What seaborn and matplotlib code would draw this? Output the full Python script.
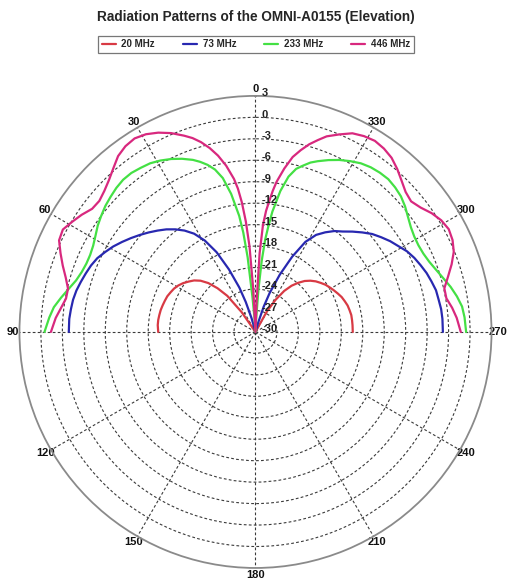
import numpy as np
import pandas as pd
import matplotlib
matplotlib.use("Agg")
import matplotlib.pyplot as plt
from matplotlib.lines import Line2D
import seaborn as sns

# Angle off zenith (deg) at which each elevation cut is sampled
angles_deg = [0, 2, 3, 4, 5, 6, 7, 8, 10, 12, 14, 16, 18, 20, 23, 26, 29, 32, 35,
              38, 41, 44, 47, 50, 53, 56, 59, 62, 65, 68, 71, 74, 77, 80, 83, 86, 90]

freq_labels = ["20 MHz", "73 MHz", "233 MHz", "446 MHz"]

# Gain (dB) on the 0..90 deg side
gain_20_left = [-30] * 17 + [-30, -26.6, -23.6, -21.9, -20.5, -19.5, -18.8, -18.3, -17.8,
                             -17.4, -17.1, -16.9, -16.7, -16.6, -16.5, -16.4, -16.35,
                             -16.3, -16.3, -16.4]
gain_73_left = [-30] * 10 + [-30, -28, -25.6, -23.4, -20.5, -17.6, -15.4, -13.8, -12.7,
                             -11.8, -11.0, -10.3, -9.6, -8.9, -8.2, -7.5, -6.8, -6.2,
                             -5.6, -5.2, -4.9, -4.6, -4.3, -4.1, -4.0, -3.9, -3.9]
gain_233_left = [-30, -30, -30, -28, -25, -19.5, -16, -13.6, -10.4, -8.0, -6.6, -5.7, -5.0,
                 -4.4, -3.7, -3.1, -2.6, -2.2, -2.0, -1.8, -1.8, -2.0, -2.3, -2.6, -3.0,
                 -3.4, -3.9, -4.3, -4.5, -4.5, -4.3, -3.9, -3.2, -2.4, -1.6, -1.1, -0.5]
gain_446_left = [-30, -30, -24, -18, -14.5, -11.8, -9.8, -8.4, -6.4, -4.8, -3.5, -2.4, -1.5,
                 -0.8, 0.2, 1.0, 1.6, 1.9, 1.7, 1.2, 0.3, -0.5, -1.1, -1.5, -1.4, -0.7,
                 -0.1, 0.5, 0.3, -0.6, -1.5, -2.4, -3.1, -3.1, -2.6, -2.0, -1.4]

# Gain (dB) on the 270..360 deg side (same angles off zenith)
gain_20_right = [-30] * 15 + [-30, -26.8, -24.7, -23.0, -21.8, -20.9, -20.1, -19.5, -19.0,
                              -18.6, -18.2, -17.9, -17.6, -17.3, -17.0, -16.8, -16.6,
                              -16.5, -16.4, -16.4, -16.4, -16.4]
gain_73_right = [-30] * 10 + [-30, -28.7, -26.3, -24.2, -21.3, -18.3, -15.6, -14.0, -13.0,
                              -12.1, -11.4, -10.5, -9.6, -8.7, -8.0, -7.3, -6.7, -6.0,
                              -5.5, -5.1, -4.7, -4.4, -4.1, -4.0, -3.85, -3.8, -3.8]
gain_233_right = [-30, -30, -28, -24, -20, -17, -15, -13, -10, -7.8, -6.5, -5.8, -5.1,
                  -4.6, -3.9, -3.25, -2.7, -2.2, -1.9, -1.75, -1.7, -1.9, -2.2, -2.7, -3.3,
                  -3.8, -4.1, -4.2, -4.1, -3.8, -3.3, -2.7, -2.0, -1.4, -0.9, -0.7, -0.55]
gain_446_right = [-30, -26, -19, -15, -13, -11.6, -10.1, -8.8, -6.8, -5.0, -3.8, -2.7, -1.8,
                  -0.9, 0.0, 0.9, 1.3, 1.5, 1.3, 0.9, 0.2, -0.6, -1.3, -1.6, -1.1, -0.3,
                  0.3, 0.6, 0.4, -0.1, -1.0, -2.0, -2.9, -2.9, -2.3, -1.8, -1.3]

left_cuts = [gain_20_left, gain_73_left, gain_233_left, gain_446_left]
right_cuts = [gain_20_right, gain_73_right, gain_233_right, gain_446_right]

line_colors = ["#d83a44", "#2828b0", "#44e044", "#d8287e"]

r_min, r_max = -30, 3
ring_labels = list(range(-30, 4, 3))
theta_labels = [str(a) for a in range(0, 360, 30)]

# One continuous trace per frequency: 90 deg right -> zenith -> 90 deg left
frames = []
for lab, gl, gr in zip(freq_labels, left_cuts, right_cuts):
    th = [-a for a in angles_deg[::-1]] + angles_deg[1:]
    db = gr[::-1] + gl[1:]
    frames.append(pd.DataFrame({"theta": np.deg2rad(th), "gain": db, "freq": lab}))
df = pd.concat(frames, ignore_index=True)

sns.set_style("white")
plt.rcParams["font.family"] = ["Liberation Sans", "DejaVu Sans"]

fig = plt.figure(figsize=(5.12, 5.85), dpi=100)
ax = fig.add_axes([0.038, 0.0291, 0.922, 0.807], projection="polar")
ax.set_theta_zero_location("N")
ax.set_theta_direction(1)

sns.lineplot(data=df, x="theta", y="gain", hue="freq", palette=line_colors,
             hue_order=freq_labels, sort=False, estimator=None, linewidth=1.6,
             legend=False, ax=ax)
ax.set_xlabel("")
ax.set_ylabel("")
ax.set_ylim(r_min, r_max)

ax.set_thetagrids(range(0, 360, 30), theta_labels)
ax.set_rticks(ring_labels[1:-1])
ax.set_yticklabels([])
ax.grid(True, color="#3a3a3a", linestyle=(0, (2.5, 2.0)), linewidth=0.8)
ax.spines["polar"].set_color("#8a8a8a")
ax.spines["polar"].set_linewidth(1.3)
ax.tick_params(axis="x", pad=-5.5, labelsize=8, colors="#111111")
for t in ax.get_xticklabels():
    t.set_fontweight("bold")

for v in ring_labels:
    ax.annotate(str(v), xy=(0, v), xytext=(4.5, 2.0), textcoords="offset points",
                ha="left", va="center", fontsize=8, fontweight="bold", color="#222222")

fig.text(0.5, 0.971, "Radiation Patterns of the OMNI-A0155 (Elevation)",
         ha="center", va="center", fontsize=9.8, fontweight="bold")

handles = [Line2D([0], [0], color=c, lw=1.6) for c in line_colors]
leg = fig.legend(handles, freq_labels, loc="center", bbox_to_anchor=(0.5, 0.924),
                 ncol=4, frameon=True, fancybox=False,
                 handlelength=1.4, handletextpad=0.6, columnspacing=2.9,
                 borderpad=0.4, prop={"weight": "bold", "size": 7})
leg.get_frame().set_edgecolor("#555555")
leg.get_frame().set_linewidth(0.9)

fig.savefig("out.png", dpi=100, facecolor="white")
